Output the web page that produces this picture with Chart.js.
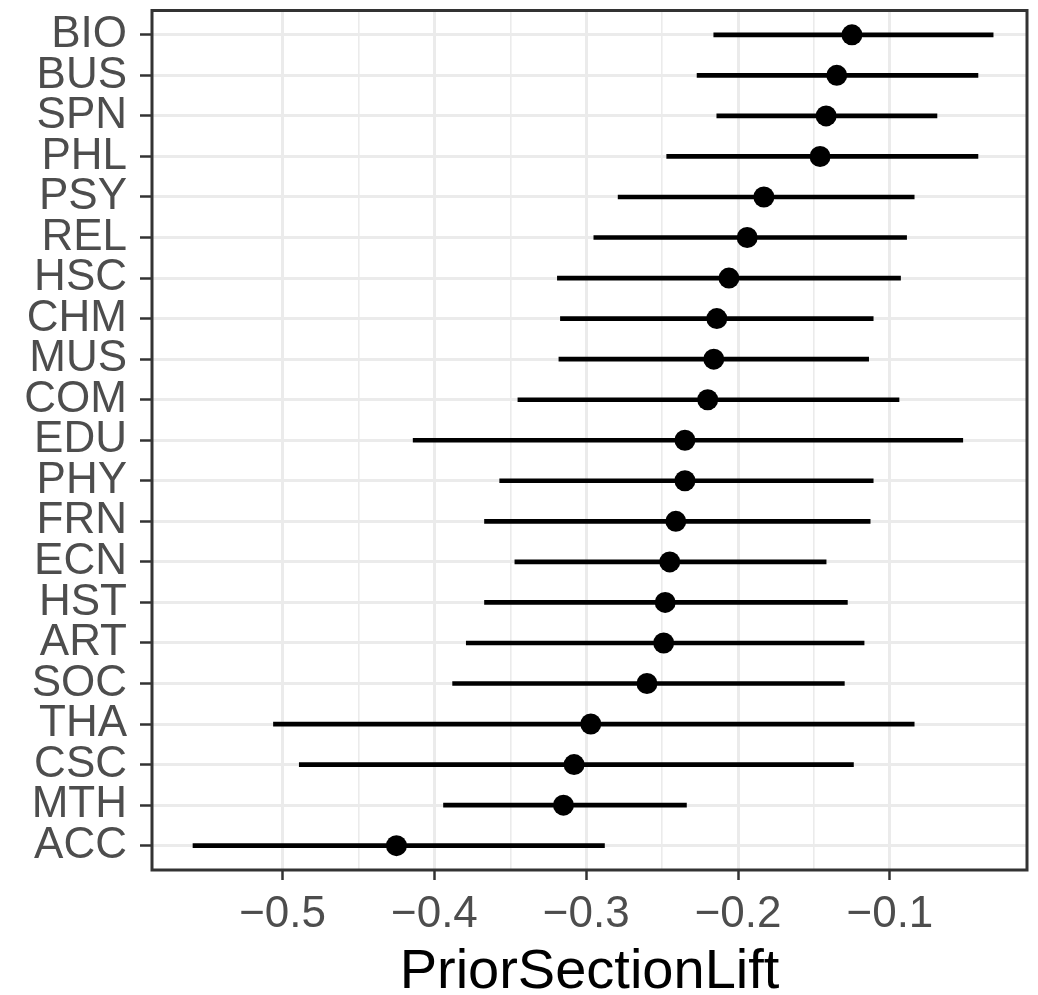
<!DOCTYPE html>
<html>
<head>
<meta charset="utf-8">
<script src="https://cdn.jsdelivr.net/npm/chart.js@4"></script>
<style>
  html, body { margin: 0; padding: 0; background: #fff; }
  #wrap { width: 1038px; height: 995px; }
</style>
</head>
<body>
<div id="wrap"><canvas id="liftChart"></canvas></div>
<script>
// departments, top to bottom
const depts = ["BIO", "BUS", "SPN", "PHL", "PSY", "REL", "HSC", "CHM", "MUS", "COM", "EDU",
               "PHY", "FRN", "ECN", "HST", "ART", "SOC", "THA", "CSC", "MTH", "ACC"];
// point estimates
const lift = [-0.125, -0.135, -0.142, -0.146, -0.183, -0.194, -0.206, -0.214, -0.216, -0.220, -0.235,
              -0.235, -0.241, -0.245, -0.248, -0.249, -0.260, -0.297, -0.308, -0.315, -0.425];
// interval ends
const lower = [-0.216, -0.227, -0.214, -0.247, -0.279, -0.295, -0.319, -0.317, -0.318, -0.345, -0.414,
               -0.357, -0.367, -0.347, -0.367, -0.379, -0.388, -0.506, -0.489, -0.394, -0.559];
const upper = [-0.032, -0.042, -0.069, -0.042, -0.084, -0.089, -0.093, -0.111, -0.114, -0.094, -0.052,
               -0.111, -0.113, -0.142, -0.128, -0.117, -0.130, -0.084, -0.124, -0.234, -0.288];
const xTicks = [-0.5, -0.4, -0.3, -0.2, -0.1];

const FONT = "'Liberation Sans', Arial, sans-serif";
const isStep = (v, n) => Math.abs(v * n - Math.round(v * n)) < 1e-6;
const isMajor = v => xTicks.some(t => Math.abs(t - v) < 1e-6);

// box round the panel, like theme_bw
const panelBorder = {
  id: "panelBorder",
  afterDraw(chart) {
    const { ctx, chartArea: a } = chart;
    ctx.save();
    ctx.strokeStyle = "#333333";
    ctx.lineWidth = 3;
    ctx.strokeRect(a.left, a.top, a.right - a.left, a.bottom - a.top);
    ctx.restore();
  }
};

new Chart("liftChart", {
  type: "bar",
  data: {
    datasets: [{
      type: "scatter",
      data: lift.map((v, i) => ({ x: v, y: i })),
      backgroundColor: "#000",
      borderWidth: 0,
      pointRadius: 10.5,
      order: 0
    }, {
      type: "bar",
      data: depts.map((d, i) => ({ x: [lower[i], upper[i]], y: i })),
      backgroundColor: "#000",
      borderWidth: 0,
      barThickness: 4,
      order: 1
    }]
  },
  options: {
    indexAxis: "y",
    responsive: true,
    maintainAspectRatio: false,
    animation: false,
    layout: { padding: { top: 8, right: 11, left: 0, bottom: 0 } },
    plugins: { legend: { display: false }, tooltip: { enabled: false } },
    scales: {
      x: {
        type: "linear",
        min: -0.586,
        max: -0.0097,
        afterBuildTicks: s => { s.ticks = s.ticks.filter(t => isStep(t.value, 20)); },
        afterFit: s => { s.height = 125; s.paddingLeft = 0; s.paddingRight = 0; },
        border: { display: false },
        grid: {
          color: "#EBEBEB",
          lineWidth: c => (c.tick && isMajor(c.tick.value) ? 3 : 1.6),
          tickColor: c => (c.tick && isMajor(c.tick.value) ? "#333333" : "rgba(0,0,0,0)"),
          tickWidth: 2.5,
          tickLength: 10
        },
        ticks: {
          stepSize: 0.05,
          autoSkip: false,
          maxRotation: 0,
          padding: 8,
          color: "#4D4D4D",
          font: { family: FONT, size: 44 },
          callback: v => (isMajor(v) ? "\u2212" + Math.abs(v).toFixed(1) : "")
        },
        title: {
          display: true,
          text: "PriorSectionLift",
          color: "#000",
          font: { family: FONT, size: 56, lineHeight: 0.8 },
          padding: { top: 0, bottom: 0 }
        }
      },
      y: {
        type: "linear",
        offset: false,
        min: -0.6,
        max: depts.length - 1 + 0.6,
        reverse: true,
        afterBuildTicks: s => { s.ticks = depts.map((d, i) => ({ value: i })); },
        afterFit: s => { s.width = 152; s.paddingTop = 0; s.paddingBottom = 0; },
        border: { display: false },
        grid: {
          offset: false,
          color: "#EBEBEB",
          lineWidth: 3,
          tickColor: "#333333",
          tickWidth: 2.5,
          tickLength: 12
        },
        ticks: {
          autoSkip: false,
          padding: 13,
          color: "#4D4D4D",
          font: { family: FONT, size: 44 },
          callback: v => depts[Math.round(v)]
        }
      }
    }
  },
  plugins: [panelBorder]
});
</script>
</body>
</html>
